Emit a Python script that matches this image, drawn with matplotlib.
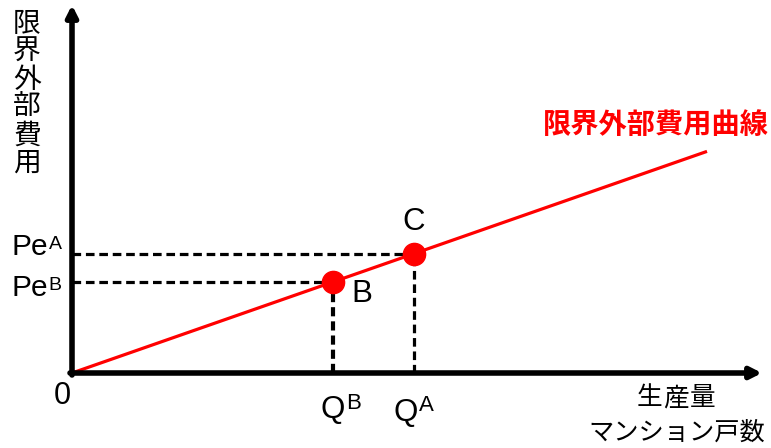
import matplotlib
matplotlib.use("Agg")
import matplotlib.pyplot as plt
import numpy as np

# data (arbitrary units)
curve_x = [0, 635]
slope = 0.349
QB, QA = 261, 342
xlim = (0, 690)
ylim = (0, 368)

curve_y = [slope * v for v in curve_x]
PeB, PeA = slope * QB, slope * QA

W, H = 771, 448
fig = plt.figure(figsize=(W / 100, H / 100), dpi=100)
ax = fig.add_axes([72 / W, 75 / H, 690 / W, 368 / H])
ax.set_xlim(*xlim)
ax.set_ylim(*ylim)
ax.axis('off')


def fx(x):
    return x / W


def fy(y):
    return 1 - y / H


# axes arrows
for xy in [(xlim[1], 0), (0, ylim[1])]:
    ax.annotate('', xy=xy, xytext=(-2, 0) if xy[1] == 0 else (0, -2),
                arrowprops=dict(arrowstyle='-|>,head_length=0.65,head_width=0.33', lw=4,
                                color='black', shrinkA=0, shrinkB=0),
                annotation_clip=False)

# dashed guides
dash = (0, (2.7, 1.5))
ax.plot([0, QA], [PeA, PeA], ls=dash, color='black', lw=2.3)
ax.plot([0, QB], [PeB, PeB], ls=dash, color='black', lw=2.3)
ax.plot([QA, QA], [0, PeA], ls=dash, color='black', lw=2.3)
ax.plot([QB, QB], [0, PeB], ls=(0, (2.2, 1.2)), color='black', lw=3.0)

# curve
ax.plot(curve_x, curve_y, color='#ff0000', lw=2.3, solid_capstyle='butt')
ax.plot([QB, QA], [PeB, PeA], 'o', color='#ff0000', markersize=16, zorder=5)

jp = ['Noto Sans CJK JP', 'DejaVu Sans']
sans = 'Liberation Sans'

# vertical y label
ylab = '限界外部費用'
for i, ch in enumerate(ylab):
    fig.text(fx(27), fy(24 + i * 27.8), ch, family=jp, fontsize=20,
             ha='center', va='center')

fig.text(fx(656), fy(125), '限界外部費用曲線', family=jp, fontsize=20.3,
         fontweight='bold', color='#ff0000', ha='center', va='center')
for i, ch in enumerate('生産量'):
    fig.text(fx(649 + i * 27), fy(398), ch, family=jp, fontsize=18.5,
             ha='center', va='center')
fig.text(fx(677), fy(433), 'マンション戸数', family=jp, fontsize=18.2,
         ha='center', va='center')

fig.canvas.draw()
renderer = fig.canvas.get_renderer()


def sup_label(x_left, baseline, base, sup, size, sup_size, sup_top):
    t = fig.text(fx(x_left), fy(baseline), base, family=sans, fontsize=size,
                 ha='left', va='baseline')
    bb = t.get_window_extent(renderer)
    fig.text(bb.x1 / W + 1 / W, fy(sup_top), sup, family=sans, fontsize=sup_size,
             ha='left', va='top')


sup_label(11, 255, 'Pe', 'A', 21.5, 14, 236)
sup_label(11, 296, 'Pe', 'B', 21.5, 14, 277)
sup_label(321, 418, 'Q', 'B', 22.5, 16, 393)
sup_label(394, 421, 'Q', 'A', 22.5, 16, 395)

fig.text(fx(62), fy(396), '0', family=sans, fontsize=22, ha='center', va='center')
fig.text(fx(414), fy(222), 'C', family=sans, fontsize=22.5, ha='center', va='center')
fig.text(fx(362), fy(294), 'B', family=sans, fontsize=22.5, ha='center', va='center')

fig.savefig('out.png', dpi=100)
